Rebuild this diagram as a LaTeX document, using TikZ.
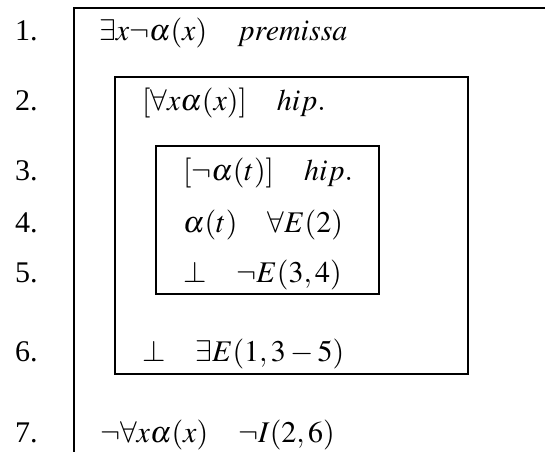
\documentclass[tikz,border=0pt,12pt]{standalone}
\usepackage{mathptmx}
\usepackage[no-math]{fontspec}
\setmainfont{Liberation Serif}
\begin{document}
\begin{tikzpicture}[x=0.45pt,y=-0.45pt,line width=1pt,line join=miter,
  lbl/.style={anchor=base west,inner sep=0pt,font=\fontsize{13.5}{16}\selectfont}]
\useasboundingbox (0,0) rectangle (545,452);

% cajas de las subderivaciones
\coordinate (OR) at (545,8);
\coordinate (OL) at (74,8);
\coordinate (OB) at (74,452);
\coordinate (M1) at (115,77);
\coordinate (M2) at (468,374);
\coordinate (I1) at (156,146);
\coordinate (I2) at (379,294);

\draw (OR)--(OL)--(OB);
\draw (M1) rectangle (M2);
\draw (I1) rectangle (I2);

% numeros de linea
\node[lbl] (n1) at (14,40) {1.};
\node[lbl] (n2) at (14,110) {2.};
\node[lbl] (n3) at (14,180) {3.};
\node[lbl] (n4) at (14,232) {4.};
\node[lbl] (n5) at (14,282) {5.};
\node[lbl] (n6) at (14,361) {6.};
\node[lbl] (n7) at (14,442) {7.};

% formulas
\node[lbl] (f1) at (98,40) {$\exists x\neg\alpha(x)\quad premissa$};
\node[lbl] (f2) at (141,110) {$[\forall x\alpha(x)]\quad hip.$};
\node[lbl] (f3) at (182,180) {$[\neg\alpha(t)]\quad hip.$};
\node[lbl] (f4) at (182,232) {$\alpha(t)\quad \forall E(2)$};
\node[lbl] (f5) at (182,282) {$\bot\quad \neg E(3,4)$};
\node[lbl] (f6) at (141,361) {$\bot\quad \exists E(1,3-5)$};
\node[lbl] (f7) at (99,442) {$\neg\forall x\alpha(x)\quad \neg I(2,6)$};
\end{tikzpicture}
\end{document}
